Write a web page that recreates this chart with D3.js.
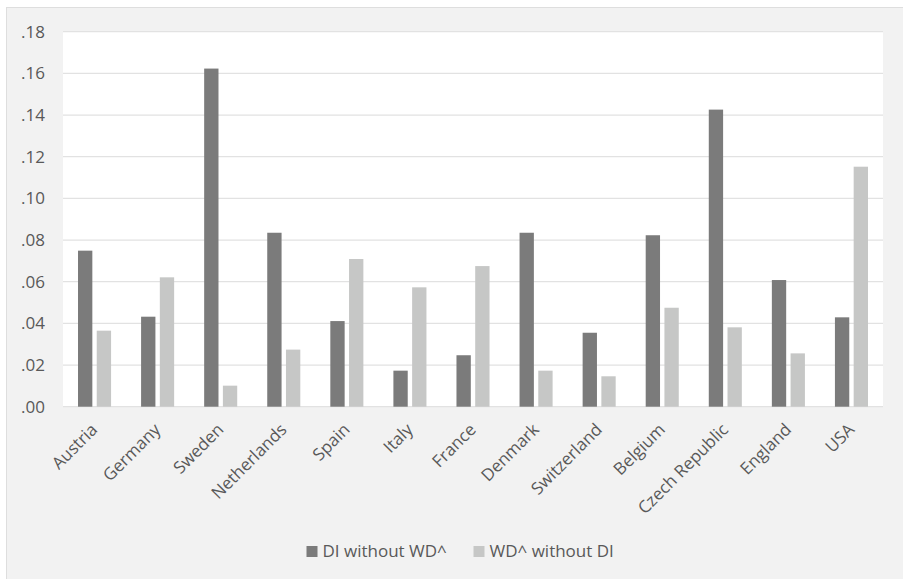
<!DOCTYPE html>
<html>
<head>
<meta charset="utf-8">
<script src="https://cdn.jsdelivr.net/npm/d3@7"></script>
<style>
  html, body { margin: 0; padding: 0; background: #ffffff; }
  svg { display: block; font-family: "Open Sans", "DejaVu Sans", sans-serif; }
</style>
</head>
<body>
<svg id="chart" width="903" height="579"></svg>
<script>
// Countries along the x axis
const countries = ["Austria", "Germany", "Sweden", "Netherlands", "Spain", "Italy",
  "France", "Denmark", "Switzerland", "Belgium", "Czech Republic", "England", "USA"];

// Series names and values
const seriesNames = ["DI without WD^", "WD^ without DI"];
const diWithoutWd = [0.0749, 0.0432, 0.1623, 0.0835, 0.0411, 0.0173, 0.0247, 0.0835, 0.0355, 0.0823, 0.1426, 0.0608, 0.0429];
const wdWithoutDi = [0.0365, 0.0621, 0.0101, 0.0274, 0.0709, 0.0573, 0.0675, 0.0173, 0.0146, 0.0475, 0.0381, 0.0256, 0.1152];

// Y-axis ticks
const yTicks = [0, 0.02, 0.04, 0.06, 0.08, 0.10, 0.12, 0.14, 0.16, 0.18];
const yTickLabels = [".00", ".02", ".04", ".06", ".08", ".10", ".12", ".14", ".16", ".18"];

const colors = ["#7b7b7b", "#c6c7c6"];
const textColor = "#595959";
const fontSize = 17;

const svg = d3.select("#chart");

// Chart panel
svg.append("rect")
  .attr("x", 6.5).attr("y", 7.5)
  .attr("width", 910).attr("height", 590)
  .attr("fill", "#f2f2f2")
  .attr("stroke", "#dedede")
  .attr("stroke-width", 1);

const plot = { left: 63, right: 883, top: 31.7, bottom: 406.7 };

// Plot area background
svg.append("rect")
  .attr("x", plot.left).attr("y", plot.top)
  .attr("width", plot.right - plot.left)
  .attr("height", plot.bottom - plot.top)
  .attr("fill", "#ffffff");

const x = d3.scaleBand().domain(countries).range([plot.left, plot.right]).padding(0);
const bw = x.bandwidth();
const xs = d3.scaleBand().domain(seriesNames)
  .range([bw * 0.238, bw * 0.762])
  .paddingInner(0.235).paddingOuter(0);

const y = d3.scaleLinear().domain([0, 0.18]).range([plot.bottom, plot.top]);

// Gridlines
svg.append("g")
  .selectAll("line")
  .data(yTicks)
  .join("line")
  .attr("x1", plot.left).attr("x2", plot.right)
  .attr("y1", d => y(d)).attr("y2", d => y(d))
  .attr("stroke", "#e2e2e2")
  .attr("stroke-width", 1.3);

// Y axis labels
const yAxis = d3.axisLeft(y)
  .tickValues(yTicks)
  .tickFormat((d, i) => yTickLabels[i])
  .tickSize(0)
  .tickPadding(0);
const yG = svg.append("g")
  .attr("transform", `translate(45,0)`)
  .call(yAxis);
yG.select(".domain").remove();
yG.selectAll("text")
  .attr("fill", textColor)
  .attr("font-size", fontSize)
  .attr("font-family", "'Open Sans', sans-serif");

// Bars
const seriesData = [diWithoutWd, wdWithoutDi];
seriesData.forEach((vals, si) => {
  svg.append("g")
    .selectAll("rect")
    .data(vals)
    .join("rect")
    .attr("x", (d, i) => x(countries[i]) + xs(seriesNames[si]))
    .attr("width", xs.bandwidth())
    .attr("y", d => y(d))
    .attr("height", d => y(0) - y(d))
    .attr("fill", colors[si]);
});

// X axis category labels
const xAxis = d3.axisBottom(x).tickSize(0).tickPadding(0);
const xG = svg.append("g")
  .attr("transform", `translate(0,${plot.bottom})`)
  .call(xAxis);
xG.select(".domain").remove();
xG.selectAll("text")
  .attr("fill", textColor)
  .attr("font-size", fontSize)
  .attr("font-family", "'Open Sans', sans-serif")
  .attr("text-anchor", "end")
  .attr("dy", 0)
  .attr("y", 0)
  .attr("transform", "translate(4,24) rotate(-45)");

// Legend
const legendX = [306.5, 473.5];
const legend = svg.append("g");
seriesNames.forEach((name, i) => {
  legend.append("rect")
    .attr("x", legendX[i]).attr("y", 546)
    .attr("width", 11).attr("height", 11)
    .attr("fill", colors[i]);
  legend.append("text")
    .attr("x", legendX[i] + 16).attr("y", 557)
    .attr("fill", textColor)
    .attr("font-size", fontSize)
    .text(name);
});
</script>
</body>
</html>
